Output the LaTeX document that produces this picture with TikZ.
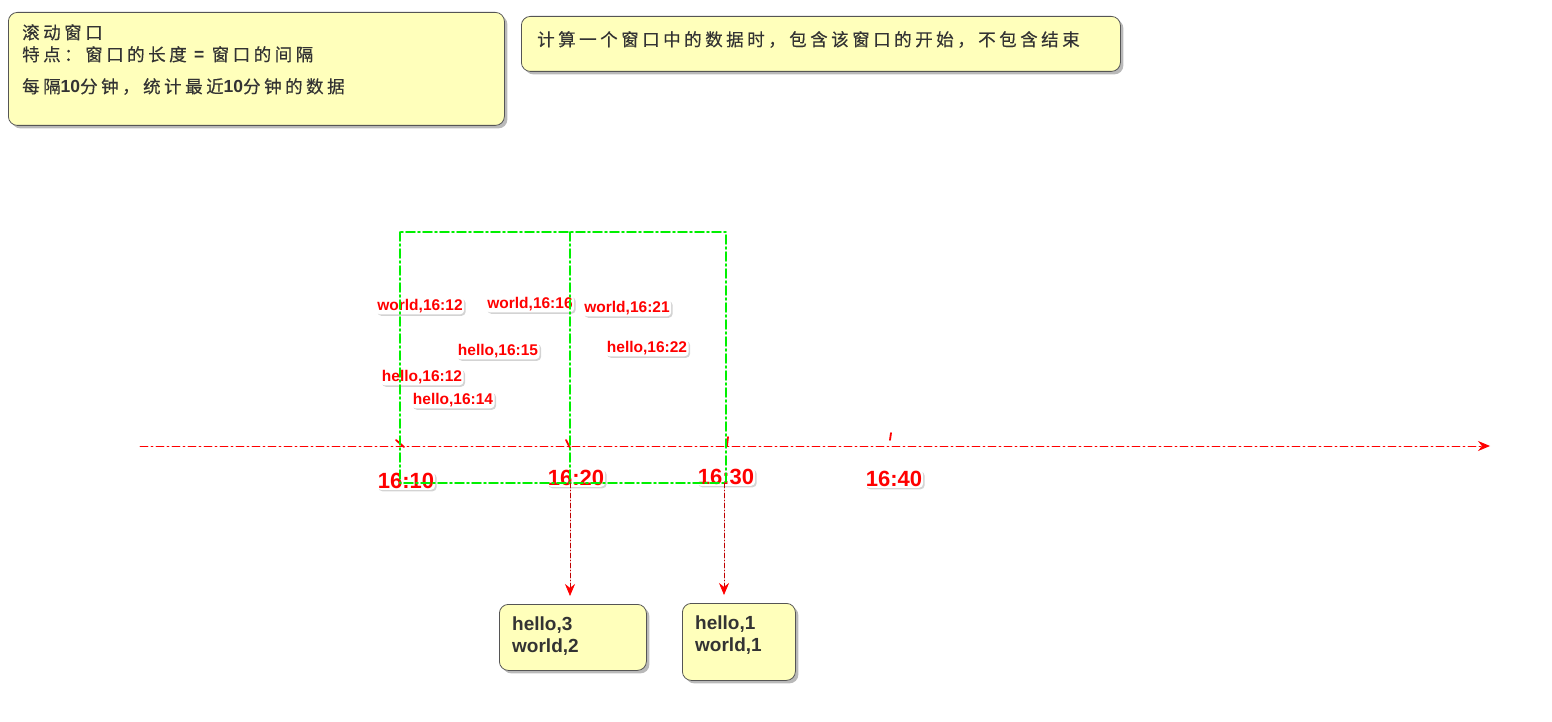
\documentclass[tikz,border=0pt]{standalone}
\usepackage{fontspec}
\setmainfont{Liberation Sans}
\newfontfamily\cjk[LetterSpace=20,FakeBold=0.4]{Noto Sans CJK SC}
\usetikzlibrary{arrows.meta,shadows}
\definecolor{notefill}{HTML}{FFFFBB}
\definecolor{noteline}{HTML}{555555}
\definecolor{winline}{HTML}{00F000}
\definecolor{ink}{HTML}{333333}
\newcommand\numb[1]{{\normalfont\fontsize{17.5}{22}\selectfont\bfseries #1}}

\begin{document}
\begin{tikzpicture}[x=1pt,y=-1pt,>=Stealth,line cap=round,line join=round]
  \tikzset{
    note/.style={draw=noteline,fill=notefill,rounded corners=9pt,line width=0.8pt,anchor=north west,inner sep=0pt,
      drop shadow={shadow xshift=3pt,shadow yshift=-3pt,opacity=0.55}},
    notetext/.style={anchor=north west,inner sep=0pt,align=left,text=ink,font=\cjk\fontsize{17.5}{22}\selectfont},
    readout/.style={anchor=north west,inner sep=0pt,align=left,text=ink,font=\fontsize{19}{22}\selectfont\bfseries},
    event/.style={text=red,fill=white,rounded corners=4pt,inner sep=1.5pt,font=\fontsize{15.5}{16}\selectfont\bfseries,
      drop shadow={shadow xshift=1.5pt,shadow yshift=-1.5pt,opacity=0.35}},
    stamp/.style={event,inner sep=1pt,font=\fontsize{22}{24}\selectfont\bfseries},
    window/.style={winline,line width=1.8pt,dash pattern=on 9pt off 3pt on 2pt off 3pt},
    timeline/.style={red,line width=0.9pt,dash pattern=on 8pt off 3pt on 2pt off 3pt,-{Stealth[length=12pt,width=10pt]}},
    fire/.style={red!75!black,line width=0.7pt,dash pattern=on 5pt off 2pt on 1pt off 2pt,shorten >=8pt,
      -{Stealth[length=12pt,width=10pt,red]}},
    tickmark/.style={red,line width=1.8pt}
  }
  \useasboundingbox (0,0) rectangle (1552,722);

  % Notes.
  \node[note,minimum width=496pt,minimum height=113pt] (rolling) at (8,12) {};
  \node[notetext] (rollingtxt) at (22,24) {滚动窗口\\特点：窗口的长度 \numb{=} 窗口的间隔\\[10pt]每隔\numb{10}分钟，统计最近\numb{10}分钟的数据};
  \node[note,minimum width=599pt,minimum height=55pt] (bounds) at (521,16) {};
  \node[notetext] (boundstxt) at (537,31) {计算一个窗口中的数据时，包含该窗口的开始，不包含结束};

  % Time line.
  \coordinate (tstart) at (140,446);
  \coordinate (tend) at (1490,446);
  \draw[timeline] (tstart) -- (tend);
  \draw[tickmark] (396,440) -- (404,447);
  \draw[tickmark] (566,440) -- (570,448);
  \draw[tickmark] (728,437) -- (727,446);
  \draw[tickmark] (891,433) -- (890,440);
  \node[stamp] (t10) at (406,481) {16:10};
  \node[stamp] (t20) at (576,478) {16:20};
  \node[stamp] (t30) at (726,477) {16:30};
  \node[stamp] (t40) at (894,479) {16:40};

  % Events.
  \node[event] (w1) at (420,306) {world,16:12};
  \node[event] (w2) at (530,304) {world,16:16};
  \node[event] (w3) at (627,308) {world,16:21};
  \node[event] (h2) at (498,351) {hello,16:15};
  \node[event] (h4) at (647,348) {hello,16:22};
  \node[event] (h1) at (422,377) {hello,16:12};
  \node[event] (h3) at (453,400) {hello,16:14};

  % Windows.
  \draw[window] (400,232) rectangle (726,483);
  \draw[window] (570,232) -- (570,483);
  \coordinate (fire1) at (570,483);
  \coordinate (fire2) at (724,483);

  % Results.
  \node[note,minimum width=147pt,minimum height=66pt] (out1) at (499,604) {};
  \node[readout] (out1txt) at (512,617) {hello,3\\world,2};
  \node[note,minimum width=113pt,minimum height=77pt] (out2) at (682,603) {};
  \node[readout] (out2txt) at (695,616) {hello,1\\world,1};
  \draw[fire] (fire1) -- (fire1 |- out1.north);
  \draw[fire] (fire2) -- (fire2 |- out2.north);
\end{tikzpicture}
\end{document}
